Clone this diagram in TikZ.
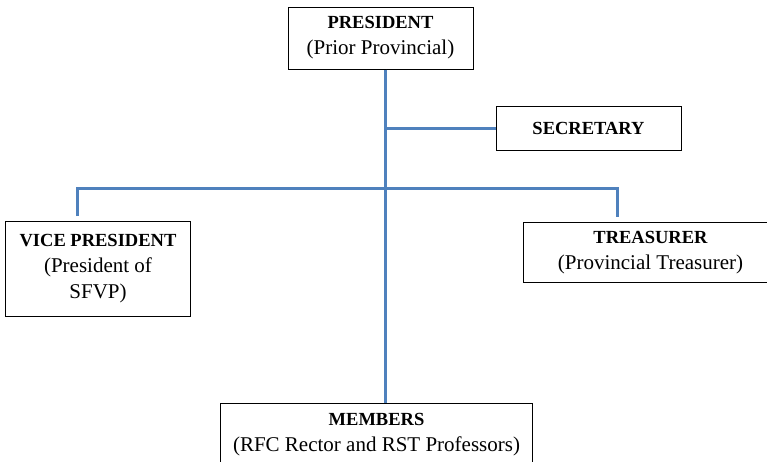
\documentclass[tikz,border=0pt]{standalone}
\usepackage{fontspec}
\setmainfont{Liberation Serif}
\usetikzlibrary{positioning}
\definecolor{linkblue}{HTML}{4F81BD}
\newcommand{\rolehead}[1]{{\fontsize{18.5}{26}\selectfont\bfseries #1}}

\begin{document}
\begin{tikzpicture}[
        x=1pt, y=1pt,
        office/.style={rectangle, draw=black, line width=1pt, align=center, inner sep=0pt, font=\fontsize{21}{26}\selectfont},
        link/.style={draw=linkblue, line width=3pt}
    ]
    \clip (0,0) rectangle (767,-461);

    \node (president) [office, minimum width=185pt, minimum height=62pt] at (380.5,-38) {\rolehead{PRESIDENT}\\(Prior Provincial)};

    \node (secretary) [office, minimum width=185pt, minimum height=44pt, below right=36pt and 22pt of president.south east] {\rolehead{SECRETARY}};

    \node (vp) [office, minimum width=185pt, minimum height=95pt, anchor=north west] at (5,-221) {\rolehead{VICE PRESIDENT}\\(President of\\SFVP)};

    \node (treasurer) [office, minimum width=254pt, minimum height=60pt, anchor=north west] at (523,-222) {\rolehead{TREASURER}\\(Provincial Treasurer)};

    \node (members) [office, minimum width=312pt, minimum height=62pt, anchor=north west] at (220,-403) {\rolehead{MEMBERS}\\(RFC Rector and RST Professors)};

    \coordinate (spine) at (385,-188);

    \draw [link] (president.south -| spine) -- (members.north -| spine);
    \draw [link] (spine |- secretary.west) -- (secretary.west);
    \draw [link] ([shift={(-20.5pt,5pt)}]vp.north) |- (spine) -| ([shift={(-33pt,5pt)}]treasurer.north);

\end{tikzpicture}
\end{document}
